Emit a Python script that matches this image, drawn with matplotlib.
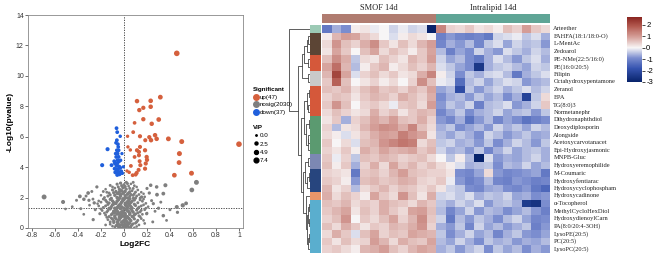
import numpy as np
import matplotlib
matplotlib.use('Agg')
import matplotlib.pyplot as plt
from matplotlib.colors import LinearSegmentedColormap, Normalize
from matplotlib.lines import Line2D
from matplotlib.cm import ScalarMappable

plt.rcParams['font.family'] = ['Liberation Sans', 'DejaVu Sans']

# ---------------- volcano data: [log2FC, -log10(p), VIP] ----------------
up_pts = np.array([
    [0.459, 11.48, 7.4], [1.0, 5.51, 7.4], [0.113, 8.34, 4.5], [0.232, 8.36, 4.8], [0.316, 8.6, 5.2],
    [0.133, 7.75, 4.2], [0.168, 7.9, 4.0], [0.232, 7.97, 4.6], [0.168, 7.15, 4.2], [0.302, 7.13, 5.0],
    [0.241, 6.85, 4.4], [0.092, 6.91, 2.8], [0.031, 6.03, 2.2], [0.139, 6.03, 3.8], [0.27, 6.1, 4.5],
    [0.284, 5.86, 4.6], [0.386, 5.86, 5.3], [0.502, 5.68, 5.6], [0.235, 5.77, 4.4], [0.034, 5.33, 2.2],
    [0.055, 5.13, 2.4], [0.113, 5.11, 3.8], [0.13, 5.0, 3.6], [0.183, 5.11, 4.0], [0.197, 4.67, 4.0],
    [0.2, 4.48, 4.1], [0.13, 4.78, 3.6], [0.482, 4.89, 5.8], [0.479, 4.3, 5.2], [0.438, 3.47, 5.0],
    [0.587, 3.6, 5.5], [0.183, 3.9, 3.8], [0.189, 4.24, 3.9], [0.136, 4.39, 3.4], [0.06, 4.08, 3.0],
    [0.026, 3.75, 2.2], [0.11, 3.62, 3.6], [0.127, 3.82, 3.5], [0.075, 3.47, 3.0], [0.101, 3.51, 3.4],
    [0.142, 4.13, 3.6], [0.22, 5.97, 4.0], [0.185, 5.77, 3.6], [0.092, 4.67, 3.0], [0.045, 3.66, 2.5],
    [0.08, 6.3, 3.0], [0.139, 5.33, 3.6]])

down_pts = np.array([
    [-0.065, 6.56, 3.0], [-0.059, 6.3, 3.0], [-0.062, 5.77, 3.0], [-0.053, 5.51, 3.0], [-0.062, 5.11, 3.0],
    [-0.056, 4.89, 3.2], [-0.047, 4.67, 3.2], [-0.044, 4.39, 3.6], [-0.059, 4.24, 3.6], [-0.041, 4.02, 3.8],
    [-0.065, 3.84, 3.6], [-0.047, 3.66, 3.8], [-0.035, 3.58, 3.6], [-0.024, 3.73, 3.0], [-0.076, 3.66, 3.2],
    [-0.143, 5.18, 3.6], [-0.19, 4.13, 3.6], [-0.108, 4.13, 3.2], [-0.085, 4.39, 3.0], [-0.018, 4.89, 2.0],
    [-0.03, 4.45, 2.6], [-0.053, 3.84, 3.4], [-0.033, 3.95, 3.0], [-0.065, 4.08, 3.2], [-0.073, 4.89, 2.6],
    [-0.05, 5.33, 2.8], [-0.07, 5.6, 2.6], [-0.033, 6.03, 2.4], [-0.041, 3.53, 3.4], [-0.059, 3.49, 3.4],
    [-0.015, 3.6, 2.6], [-0.082, 3.9, 3.0], [-0.006, 4.02, 2.2], [-0.056, 4.45, 3.2], [-0.068, 4.67, 3.0],
    [-0.047, 5.11, 3.0], [-0.079, 4.24, 3.0]])

nosig_pts = np.array([
    [-0.03, 2.95, 2.0], [0.0, 2.85, 1.5], [0.02, 3.0, 1.8], [0.04, 2.75, 1.2], [-0.05, 2.7, 1.6],
    [0.06, 2.9, 1.0], [-0.01, 2.65, 2.2], [0.08, 2.6, 1.4], [-0.08, 2.62, 1.3], [0.11, 2.7, 1.0],
    [-0.13, 2.3, 1.5], [-0.1, 2.5, 1.8], [-0.07, 2.4, 2.0], [-0.05, 2.25, 1.6], [-0.02, 2.45, 2.3],
    [0.0, 2.35, 1.9], [0.02, 2.55, 1.7], [0.04, 2.3, 2.1], [0.07, 2.45, 1.5], [0.09, 2.25, 1.3],
    [0.12, 2.5, 1.2], [0.15, 2.35, 1.1], [-0.16, 2.55, 1.0], [0.06, 2.2, 1.8], [-0.03, 2.2, 2.4],
    [-0.17, 2.0, 1.4], [-0.14, 2.1, 1.7], [-0.11, 1.95, 1.9], [-0.08, 2.15, 2.2], [-0.06, 2.0, 2.5],
    [-0.03, 2.1, 2.6], [-0.01, 1.92, 2.3], [0.01, 2.12, 2.4], [0.03, 1.98, 2.2], [0.05, 2.08, 1.9],
    [0.08, 1.95, 1.7], [0.11, 2.1, 1.5], [0.14, 1.97, 1.4], [0.18, 2.05, 1.1], [-0.2, 2.15, 1.0],
    [-0.2, 1.7, 1.3], [-0.16, 1.82, 1.6], [-0.13, 1.65, 1.8], [-0.1, 1.78, 2.1], [-0.07, 1.62, 2.4],
    [-0.05, 1.85, 2.6], [-0.02, 1.7, 2.7], [0.0, 1.88, 2.5], [0.02, 1.64, 2.6], [0.04, 1.8, 2.4],
    [0.06, 1.68, 2.2], [0.09, 1.84, 1.9], [0.12, 1.66, 1.6], [0.16, 1.76, 1.4], [0.19, 1.62, 1.2],
    [-0.23, 1.6, 1.0], [-0.22, 1.45, 1.2], [-0.18, 1.35, 1.5], [-0.14, 1.55, 1.8], [-0.11, 1.4, 2.0],
    [-0.09, 1.58, 2.3], [-0.06, 1.33, 2.5], [-0.04, 1.5, 2.7], [-0.02, 1.38, 2.6], [0.01, 1.56, 2.5],
    [0.03, 1.36, 2.6], [0.05, 1.5, 2.4], [0.07, 1.32, 2.2], [0.1, 1.48, 1.9], [0.13, 1.37, 1.6],
    [0.17, 1.52, 1.3], [0.21, 1.4, 1.1], [-0.19, 1.15, 1.3], [-0.15, 1.05, 1.6], [-0.12, 1.25, 1.9],
    [-0.09, 1.1, 2.2], [-0.07, 1.2, 2.4], [-0.05, 1.02, 2.6], [-0.03, 1.28, 2.7], [-0.01, 1.12, 2.5],
    [0.0, 1.0, 2.4], [0.02, 1.22, 2.6], [0.04, 1.08, 2.5], [0.06, 1.26, 2.3], [0.08, 1.04, 2.1],
    [0.11, 1.18, 1.8], [0.14, 1.06, 1.5], [0.18, 1.2, 1.2], [-0.16, 0.85, 1.4], [-0.13, 0.75, 1.7],
    [-0.1, 0.95, 2.0], [-0.08, 0.8, 2.3], [-0.06, 0.92, 2.5], [-0.04, 0.72, 2.6], [-0.02, 0.88, 2.7],
    [0.0, 0.78, 2.6], [0.01, 0.96, 2.4], [0.03, 0.74, 2.5], [0.05, 0.9, 2.3], [0.07, 0.76, 2.1],
    [0.1, 0.92, 1.8], [0.13, 0.8, 1.5], [0.16, 0.9, 1.2], [-0.14, 0.55, 1.3], [-0.11, 0.65, 1.6],
    [-0.09, 0.45, 1.9], [-0.07, 0.6, 2.2], [-0.05, 0.5, 2.4], [-0.03, 0.68, 2.5], [-0.01, 0.42, 2.6],
    [0.01, 0.58, 2.5], [0.02, 0.46, 2.3], [0.04, 0.64, 2.4], [0.06, 0.48, 2.2], [0.09, 0.6, 1.9],
    [0.12, 0.5, 1.6], [0.15, 0.62, 1.3], [-0.12, 0.25, 1.2], [-0.09, 0.35, 1.5], [-0.07, 0.15, 1.8],
    [-0.05, 0.3, 2.1], [-0.03, 0.2, 2.3], [-0.02, 0.38, 2.4], [0.0, 0.12, 2.2], [0.01, 0.28, 2.3],
    [0.03, 0.18, 2.1], [0.05, 0.34, 2.0], [0.07, 0.22, 1.8], [0.1, 0.32, 1.5], [0.13, 0.2, 1.2],
    [-0.08, 0.05, 1.0], [-0.05, 0.08, 1.4], [-0.03, 0.02, 1.6], [-0.01, 0.06, 1.8], [0.01, 0.03, 1.7],
    [0.02, 0.09, 1.5], [0.04, 0.04, 1.6], [0.06, 0.07, 1.3], [0.09, 0.02, 1.0],
    # second layer filling the dense core
    [-0.06, 2.88, 1.8], [0.01, 2.72, 2.0], [0.03, 2.92, 1.6], [-0.04, 2.55, 2.0], [0.05, 2.6, 1.6],
    [-0.02, 2.78, 1.9], [0.09, 2.78, 1.2], [-0.1, 2.7, 1.2], [-0.12, 2.18, 1.6], [-0.09, 2.32, 1.9],
    [-0.06, 2.28, 2.2], [-0.04, 2.38, 2.4], [-0.01, 2.28, 2.5], [0.01, 2.4, 2.2], [0.03, 2.22, 2.3],
    [0.05, 2.38, 2.0], [0.08, 2.15, 1.8], [0.1, 2.36, 1.5], [0.13, 2.2, 1.3], [-0.15, 2.35, 1.3],
    [0.17, 2.25, 1.0], [-0.18, 1.9, 1.3], [-0.15, 1.72, 1.6], [-0.12, 1.88, 1.9], [-0.09, 1.68, 2.2],
    [-0.06, 1.76, 2.5], [-0.04, 1.95, 2.6], [-0.01, 1.8, 2.7], [0.01, 1.98, 2.5], [0.03, 1.72, 2.6],
    [0.05, 1.92, 2.3], [0.07, 1.76, 2.1], [0.1, 1.96, 1.8], [0.14, 1.85, 1.5], [0.17, 1.9, 1.2],
    [-0.22, 1.78, 1.1], [-0.2, 1.25, 1.3], [-0.16, 1.45, 1.6], [-0.13, 1.3, 1.9], [-0.1, 1.52, 2.2],
    [-0.08, 1.3, 2.4], [-0.05, 1.42, 2.6], [-0.03, 1.58, 2.7], [0.0, 1.3, 2.6], [0.02, 1.46, 2.6],
    [0.04, 1.6, 2.5], [0.06, 1.4, 2.3], [0.09, 1.56, 2.0], [0.12, 1.28, 1.8], [0.15, 1.45, 1.5],
    [0.19, 1.3, 1.2], [-0.17, 0.98, 1.3], [-0.14, 1.15, 1.6], [-0.11, 0.88, 1.9], [-0.08, 1.02, 2.2],
    [-0.06, 1.12, 2.5], [-0.04, 0.9, 2.6], [-0.02, 1.05, 2.7], [0.01, 0.86, 2.6], [0.03, 1.15, 2.6],
    [0.05, 0.98, 2.5], [0.07, 1.14, 2.2], [0.09, 0.86, 2.0], [0.12, 1.0, 1.7], [0.15, 1.16, 1.4],
    [0.2, 0.98, 1.1], [-0.15, 0.7, 1.2], [-0.12, 0.4, 1.5], [-0.1, 0.58, 1.8], [-0.08, 0.7, 2.1],
    [-0.06, 0.38, 2.3], [-0.04, 0.56, 2.5], [-0.02, 0.76, 2.6], [0.0, 0.5, 2.5], [0.02, 0.7, 2.5],
    [0.03, 0.36, 2.4], [0.05, 0.56, 2.3], [0.08, 0.72, 2.0], [0.11, 0.4, 1.7], [0.14, 0.74, 1.4],
    [0.17, 0.5, 1.1], [-0.1, 0.12, 1.2], [-0.06, 0.2, 1.6], [-0.04, 0.1, 1.9], [-0.01, 0.22, 2.1],
    [0.02, 0.14, 2.0], [0.04, 0.26, 1.9], [0.06, 0.12, 1.7], [0.08, 0.28, 1.4], [0.11, 0.1, 1.1],
    # scattered points around the core
    [-0.27, 1.9, 1.4], [-0.3, 1.5, 1.2], [-0.33, 2.1, 1.5], [-0.45, 1.4, 1.2], [0.24, 1.8, 1.6],
    [0.27, 1.1, 1.4], [0.32, 1.7, 1.5], [0.4, 1.2, 1.5], [0.2, 2.6, 1.8], [-0.18, 2.4, 1.4],
    [0.18, 0.3, 1.2], [-0.16, 0.2, 1.2], [0.37, 0.5, 1.3], [-0.35, 0.9, 1.2],
    [-0.695, 2.04, 5.5], [-0.53, 1.71, 3.5], [-0.509, 1.25, 1.0], [-0.384, 2.08, 3.0], [-0.349, 1.89, 2.5],
    [-0.312, 2.3, 2.8], [-0.305, 1.82, 2.0], [-0.259, 1.65, 2.2], [-0.236, 2.7, 2.0], [-0.268, 0.55, 2.0],
    [-0.21, 0.94, 1.8], [0.59, 2.5, 5.0], [0.63, 3.0, 5.5], [0.459, 1.38, 3.5], [0.511, 1.49, 4.0],
    [0.54, 1.62, 3.0], [0.465, 1.03, 2.0], [0.36, 2.81, 3.5], [0.342, 2.26, 3.0], [0.287, 2.19, 3.0],
    [0.284, 2.7, 2.5], [0.232, 2.81, 2.5], [0.342, 0.81, 2.5], [0.255, 1.6, 2.0], [0.197, 0.94, 2.0],
    [0.153, 2.04, 2.0], [-0.376, 1.27, 1.5], [-0.413, 1.82, 1.5], [-0.28, 2.4, 1.5], [0.25, 0.4, 1.5],
    [-0.25, 1.2, 1.5], [0.3, 1.3, 2.0], [0.22, 2.3, 2.0], [0.08, 3.0, 1.5], [-0.12, 2.8, 1.5]])

sig_labels = ['up(47)', 'nosig(2030)', 'down(37)']
sig_colors = ['#d5603d', '#7f7f7f', '#1f5fdc']
vip_levels = [0.0, 2.5, 4.9, 7.4]

# ---------------- heatmap data ----------------
metabolites = ['Arteether', 'FAHFA(18:1/18:0-O)', 'L-MentAc', 'Zedoarol', 'PE-NMe(22:5/16:0)',
               'PE(16:0/20:5)', 'Filipin', 'Octahydroxypentamone', 'Zeranol', 'EPA', 'TG(8:0)3',
               'Normetanephr', 'Dihydronaphthdiol', 'Deoxydiplosporin', 'Alongside',
               'Acetoxycarvotanacet', 'Epi-Hydroxyjasmonic', 'MNPB-Gluc', 'Hydroxyeremophilide',
               'M-Coumaric', 'Hydroxyfentiarac', 'Hydroxycyclophospham', 'Hydroxycadinone',
               'α-Tocopherol', 'MethylCycloHexDiol', 'HydroxydienoylCarn', 'PA(8:0/20:4-3OH)',
               'LysoPE(20:5)', 'PC(20:5)', 'LysoPC(20:5)']
groups = ['SMOF 14d', 'Intralipid 14d']
group_colors = ['#b07c70', '#5fa596']
n_per_group = 12

heat = np.array([
    [-1.2, -0.6, -0.9, 0.1, 0.2, -0.1, 0.0, -0.3, -0.1, -0.3, -0.2, -3.2, 1.3, 0.4, 0.3, 0.5, 0.2, 0.3, 0.1, 0.6, 0.4, 1.0, 0.5, 0.3],
    [0.1, 0.7, 1.0, 0.9, 0.5, 0.3, 0.0, -0.2, 0.1, 0.3, 0.2, 0.0, -1.1, -0.8, -1.0, -1.1, -1.0, -1.2, -0.3, -0.2, -0.1, -0.4, -0.2, -0.6],
    [0.3, 1.1, 0.6, 0.4, 0.8, 1.2, 0.5, 0.2, 0.6, 0.3, 0.7, 1.0, -1.0, -0.6, -0.8, -0.5, -1.0, -0.4, -0.2, -0.7, -0.3, -0.5, -0.4, -0.8],
    [0.2, 0.9, 0.5, 0.0, 0.6, 0.9, 0.3, 0.6, 0.4, 0.1, 0.5, 0.9, -0.5, -1.1, -0.7, -0.9, -0.3, -0.6, -0.8, -0.2, -0.4, -0.6, -0.3, -0.5],
    [0.6, 1.2, 0.8, -0.4, 0.3, 0.2, 0.6, 0.4, 0.2, 0.7, 0.5, 1.0, -0.3, -0.7, -0.5, -0.9, -1.2, -0.6, -0.2, -0.5, -0.8, -0.4, -0.2, -0.6],
    [0.9, 1.6, 0.7, -0.5, 0.1, 0.5, 0.7, 0.1, 0.3, 0.6, 0.4, 0.7, -0.2, -0.4, -0.7, -0.9, -2.5, -0.6, -0.4, -0.3, -0.5, -0.7, -0.3, -0.4],
    [0.7, 2.2, 0.9, -0.2, 0.4, 0.6, 0.3, 0.5, 0.2, 0.3, 0.8, 1.3, 0.1, -0.3, -0.9, -0.4, -0.6, -0.3, -0.2, -0.5, -1.2, -0.6, -0.4, -0.2],
    [0.5, 1.8, 0.6, 0.0, 0.2, 0.4, 0.1, 0.3, 0.0, 0.4, 1.2, 0.6, -0.1, -0.2, -1.4, -0.5, -0.3, -0.7, -0.4, -0.2, -0.3, -0.8, -0.6, -0.5],
    [0.6, 0.5, 0.7, 0.3, 0.6, 0.8, 0.5, 0.6, 0.4, 0.7, 0.5, 0.9, -0.7, -0.5, -2.0, -0.4, -0.8, -0.5, -0.3, -0.6, -0.4, -0.2, -0.5, -0.3],
    [0.4, 0.6, 0.5, 0.2, 0.5, 0.7, 0.6, 0.4, 0.8, 0.6, 0.4, 0.8, -0.9, -0.6, -0.5, -0.8, -0.4, -0.7, -0.5, -0.9, -0.6, -2.2, -0.4, 0.3],
    [0.5, 1.1, 0.6, 0.0, 0.4, 0.5, 0.3, -0.1, 0.5, 0.6, 0.3, 1.0, -0.8, -0.4, -0.6, -0.3, -1.1, -0.5, -0.4, -0.2, -0.8, -0.6, -0.3, 0.5],
    [0.3, 0.6, 0.4, 0.2, 0.3, 0.8, 0.4, 0.6, 0.2, 0.5, 0.7, 0.6, -1.0, -0.7, -0.4, -0.9, -0.6, -0.5, -0.3, -0.7, -0.5, -0.4, -0.8, -0.4],
    [0.2, 0.5, -0.6, 0.4, 0.6, 0.9, 0.7, 1.0, 0.6, 0.5, 0.8, 0.4, -0.8, -1.0, -0.6, -1.3, -0.8, -0.5, -1.0, -0.7, -0.9, -1.3, -1.1, -0.9],
    [0.4, -0.5, 0.2, 0.3, 0.7, 1.0, 1.2, 1.1, 0.8, 1.3, 0.6, 0.3, -0.6, -0.4, -0.9, -0.7, -0.5, -0.8, -0.3, -0.6, -0.4, -0.7, -0.3, -0.5],
    [0.3, 0.1, -0.2, 0.2, 0.5, 0.8, 1.0, 0.9, 1.4, 1.1, 0.9, 0.2, -0.5, -0.7, -0.4, -0.6, -0.9, -0.3, -0.5, -0.8, -0.6, -0.4, -0.7, -0.6],
    [0.5, 0.0, 0.3, -0.2, 0.6, 0.7, 1.1, 1.3, 1.5, 1.4, 0.3, 0.6, -0.4, -0.3, -0.6, -0.5, -0.8, -0.4, -0.9, -0.6, -0.3, -0.5, -0.8, -0.4],
    [0.4, 0.2, 0.5, 0.1, 0.8, 0.6, 0.9, 0.7, 0.8, 0.9, 0.5, 0.7, -0.3, -0.6, -0.5, -0.8, -0.4, -1.0, -0.6, -0.3, -0.7, -0.5, -0.4, -0.6],
    [0.5, -0.1, 0.4, -0.4, 0.6, 0.5, 0.7, 0.6, 0.4, 0.5, 0.6, 0.3, 0.0, -0.4, 0.1, -0.5, -3.0, -0.2, -0.8, -0.6, -0.7, -0.5, -0.3, -0.6],
    [0.6, 0.1, 0.5, -0.6, 0.4, 0.8, 0.3, 0.9, 0.5, 0.7, 0.4, 0.6, 0.3, 0.1, -0.2, -0.6, -0.5, -0.4, -0.9, -0.5, -0.6, -0.3, -0.7, -0.5],
    [0.4, 0.3, 0.2, -1.2, 0.5, 0.6, 0.4, 0.7, 1.0, 0.6, 0.5, 0.4, 0.4, 0.2, -0.9, -1.0, -0.7, 0.3, -0.8, -1.0, -0.9, -0.8, -0.7, -1.2],
    [0.5, 0.4, 0.1, -0.8, 0.6, 0.7, 0.5, 0.6, 0.8, 0.7, 0.4, 0.3, 0.5, -0.1, -0.8, -1.1, -0.9, -0.5, -1.0, -1.1, -0.8, -0.9, -1.1, -1.0],
    [0.7, 0.2, 0.4, -0.5, 0.3, 0.5, 0.7, 0.4, 0.6, 0.5, 0.3, 0.5, 0.2, -0.3, -0.4, -0.9, -1.0, -0.7, -0.6, -0.9, -1.0, -0.8, -1.2, -1.5],
    [0.8, 0.3, 0.6, 0.4, 0.1, 0.9, 0.5, 0.3, 1.1, 0.6, 0.2, 0.8, -0.3, -0.2, -0.4, -0.2, -0.6, -0.4, -0.5, -0.3, -0.7, -0.6, -0.9, -0.8],
    [0.6, 0.5, 0.7, 0.3, 0.5, 0.4, 0.8, 0.6, 0.5, 0.3, 0.7, 0.5, -0.4, -0.6, -0.3, -0.5, -0.2, -0.8, -0.5, -0.4, -0.6, -2.4, -2.6, -0.9],
    [0.5, 0.7, 0.9, 0.2, 0.6, 0.4, 0.8, 0.5, 0.3, 0.9, 1.0, 0.6, -0.5, -1.0, -0.7, -0.3, -0.8, -0.5, -0.6, -0.9, -0.7, -0.5, -0.8, -1.1],
    [0.4, 0.6, 1.1, 0.0, 0.5, 0.3, 0.6, 0.9, 0.4, 0.7, 1.2, 0.5, -0.3, -1.2, -0.5, -0.8, -0.4, -0.6, -0.9, -0.5, -0.3, -0.7, -1.0, -0.9],
    [0.6, 0.3, 0.8, 0.5, 0.2, 0.5, 0.4, 0.7, 0.6, 0.8, 1.1, 0.4, -0.6, -0.8, -0.4, -1.0, -0.3, -0.7, -0.5, -0.8, -0.6, -0.4, -1.1, -0.8],
    [0.3, 0.8, 0.5, -0.2, 0.6, 0.9, 0.4, 0.6, 0.5, 0.9, 0.8, 0.7, -0.4, -0.9, -0.6, -0.3, -0.7, -0.5, -1.0, -0.6, -0.4, -0.8, -0.9, -0.7],
    [0.5, 0.2, 0.6, 0.3, 0.4, 1.0, 0.7, 0.3, 0.8, 0.6, 0.5, 0.9, -0.5, -0.7, -0.3, -0.6, -0.9, -0.4, -0.6, -0.5, -0.8, -0.6, -0.7, -0.5],
    [0.4, 0.5, 0.3, 0.1, 0.7, 0.8, 1.0, 0.6, 0.4, 0.7, 0.9, 0.8, -0.6, -0.4, -0.8, -0.5, -0.3, -0.9, -0.4, -0.7, -0.5, -0.9, -0.6, -0.8]])

# row annotation (class colour blocks, top to bottom)
class_sizes = [1, 3, 2, 2, 4, 5, 2, 3, 1, 7]
class_colors = ['#9ccab5', '#5c4535', '#d5583a', '#c9c9c9', '#d5583a',
                '#5b9a70', '#7c88b3', '#27457e', '#e8956a', '#5aaece']

# row dendrogram merges (scipy-like: left id, right id, height); leaves are 0..29
merges = [(1, 2, 0.08), (30, 3, 0.15), (4, 5, 0.1), (31, 32, 0.3), (6, 7, 0.12),
          (33, 34, 0.38), (8, 9, 0.07), (10, 11, 0.09), (36, 37, 0.17), (12, 13, 0.06),
          (14, 15, 0.08), (40, 16, 0.12), (39, 41, 0.2), (38, 42, 0.3), (17, 18, 0.1),
          (19, 20, 0.07), (45, 21, 0.13), (44, 46, 0.25), (23, 24, 0.05), (25, 26, 0.06),
          (48, 49, 0.1), (27, 28, 0.05), (51, 29, 0.08), (50, 52, 0.14), (22, 53, 0.2),
          (47, 54, 0.35), (43, 55, 0.45), (35, 56, 0.6), (0, 57, 1.0)]

# ---------------- figure ----------------
W, H = 669, 261
fig = plt.figure(figsize=(W / 100, H / 100), dpi=100)

def box(x0, y0, x1, y1):
    # pixel box (top-left origin) -> figure rect
    return [x0 / W, 1 - y1 / H, (x1 - x0) / W, (y1 - y0) / H]

# volcano
ax = fig.add_axes(box(28, 15, 243, 228))
size = lambda v: 1.5 + 2.0 * v
for pts, c in [(nosig_pts, sig_colors[1]), (up_pts, sig_colors[0]), (down_pts, sig_colors[2])]:
    ax.scatter(pts[:, 0], pts[:, 1], s=size(pts[:, 2]), c=c, linewidths=0, zorder=2)
ax.axvline(0, color='#333333', ls=(0, (1.5, 1.5)), lw=0.6, zorder=1)
ax.axhline(1.3, color='#333333', ls=(0, (1.5, 1.5)), lw=0.6, zorder=1)
ax.set_xlim(-0.835, 1.035)
ax.set_ylim(0, 14)
ax.set_xticks([-0.8, -0.6, -0.4, -0.2, 0, 0.2, 0.4, 0.6, 0.8, 1])
ax.set_xticklabels(['-0.8', '-0.6', '-0.4', '-0.2', '0', '0.2', '0.4', '0.6', '0.8', '1'])
ax.set_yticks(range(0, 15, 2))
ax.tick_params(labelsize=5, length=2, width=0.5, pad=1, colors='#333333')
for s in ax.spines.values():
    s.set_linewidth(0.6)
    s.set_color('#888888')
ax.set_xlabel('Log2FC', fontsize=6, fontweight='bold', labelpad=1)
ax.set_ylabel('-Log10(pvalue)', fontsize=6, fontweight='bold', labelpad=2)

# legends
h1 = [Line2D([], [], ls='', marker='o', ms=4, mfc=c, mec=c) for c in sig_colors]
lg1 = fig.legend(h1, sig_labels, title='Significant', loc='upper left', bbox_to_anchor=(250 / W, 1 - 84 / H),
                 frameon=False, fontsize=4.5, title_fontsize=4.5, handletextpad=0.1, labelspacing=0.35,
                 borderpad=0, handlelength=1, alignment='left')
lg1.get_title().set_fontweight('bold')
h2 = [Line2D([], [], ls='', marker='o', ms=np.sqrt(size(v)) * 0.85, mfc='k', mec='k') for v in vip_levels]
lg2 = fig.legend(h2, [f'{v:.1f}' for v in vip_levels], title='VIP', loc='upper left',
                 bbox_to_anchor=(250 / W, 1 - 122 / H), frameon=False, fontsize=4.5, title_fontsize=4.5,
                 handletextpad=0.1, labelspacing=0.45, borderpad=0, handlelength=1, alignment='left')
lg2.get_title().set_fontweight('bold')

# heatmap colours
vmin, vmax = -3.0, 2.7
norm = Normalize(vmin, vmax)
z = (0 - vmin) / (vmax - vmin)
cmap = LinearSegmentedColormap.from_list('rwb', [
    (0.0, '#08236b'), (z * 0.4, '#3654b0'), (z * 0.7, '#7b8dcf'), (z, '#f8f6f6'),
    (z + (1 - z) * 0.35, '#d6a19b'), (z + (1 - z) * 0.7, '#b35a50'), (1.0, '#8a2621')])

nrow, ncol = heat.shape
ax_h = fig.add_axes(box(322, 25, 550, 253))
ax_h.pcolormesh(heat, cmap=cmap, norm=norm)
ax_h.set_xlim(0, ncol)
ax_h.set_ylim(nrow, 0)
ax_h.axis('off')
for i, name in enumerate(metabolites):
    ax_h.text(ncol + 0.35, i + 0.5, name, fontsize=4.6, va='center', ha='left',
              family=['Liberation Serif', 'DejaVu Serif'], color='#222222')

# group header bar
ax_g = fig.add_axes(box(322, 14, 550, 23))
ax_g.bar([0, n_per_group], [1, 1], width=n_per_group, align='edge', color=group_colors)
ax_g.set_xlim(0, ncol)
ax_g.set_ylim(0, 1)
ax_g.axis('off')
for k, g in enumerate(groups):
    ax_g.text(n_per_group * (k + 0.5), 1.25, g, ha='center', va='bottom', fontsize=6,
              family=['Liberation Serif', 'DejaVu Serif'], color='#222222')

# row class bar
ax_r = fig.add_axes(box(310, 25, 321, 253))
starts = np.concatenate([[0], np.cumsum(class_sizes)[:-1]])
ax_r.barh(starts, [1] * len(class_sizes), height=class_sizes, align='edge', color=class_colors)
ax_r.set_xlim(0, 1)
ax_r.set_ylim(nrow, 0)
ax_r.axis('off')

# dendrogram
ax_d = fig.add_axes(box(289, 25, 310, 253))
pos = {i: (i + 0.5, 0.0) for i in range(nrow)}
for k, (a, b, hgt) in enumerate(merges):
    ya, ha_ = pos[a]
    yb, hb = pos[b]
    ax_d.plot([ha_, hgt, hgt, hb], [ya, ya, yb, yb], color='#444444', lw=0.6)
    pos[nrow + k] = ((ya + yb) / 2, hgt)
ax_d.set_xlim(1.02, 0)
ax_d.set_ylim(nrow, 0)
ax_d.axis('off')

# colorbar
cb_ticks = [2, 1, 0, -1, -2, -3]
cax = fig.add_axes(box(627, 17, 642, 82))
cb = fig.colorbar(ScalarMappable(norm=norm, cmap=cmap), cax=cax)
cb.set_ticks(cb_ticks)
cb.set_ticklabels([str(t) for t in cb_ticks])
cb.ax.tick_params(labelsize=5.5, length=2, width=0.5, pad=1)
cb.outline.set_visible(False)

fig.savefig('out.png', dpi=100)
